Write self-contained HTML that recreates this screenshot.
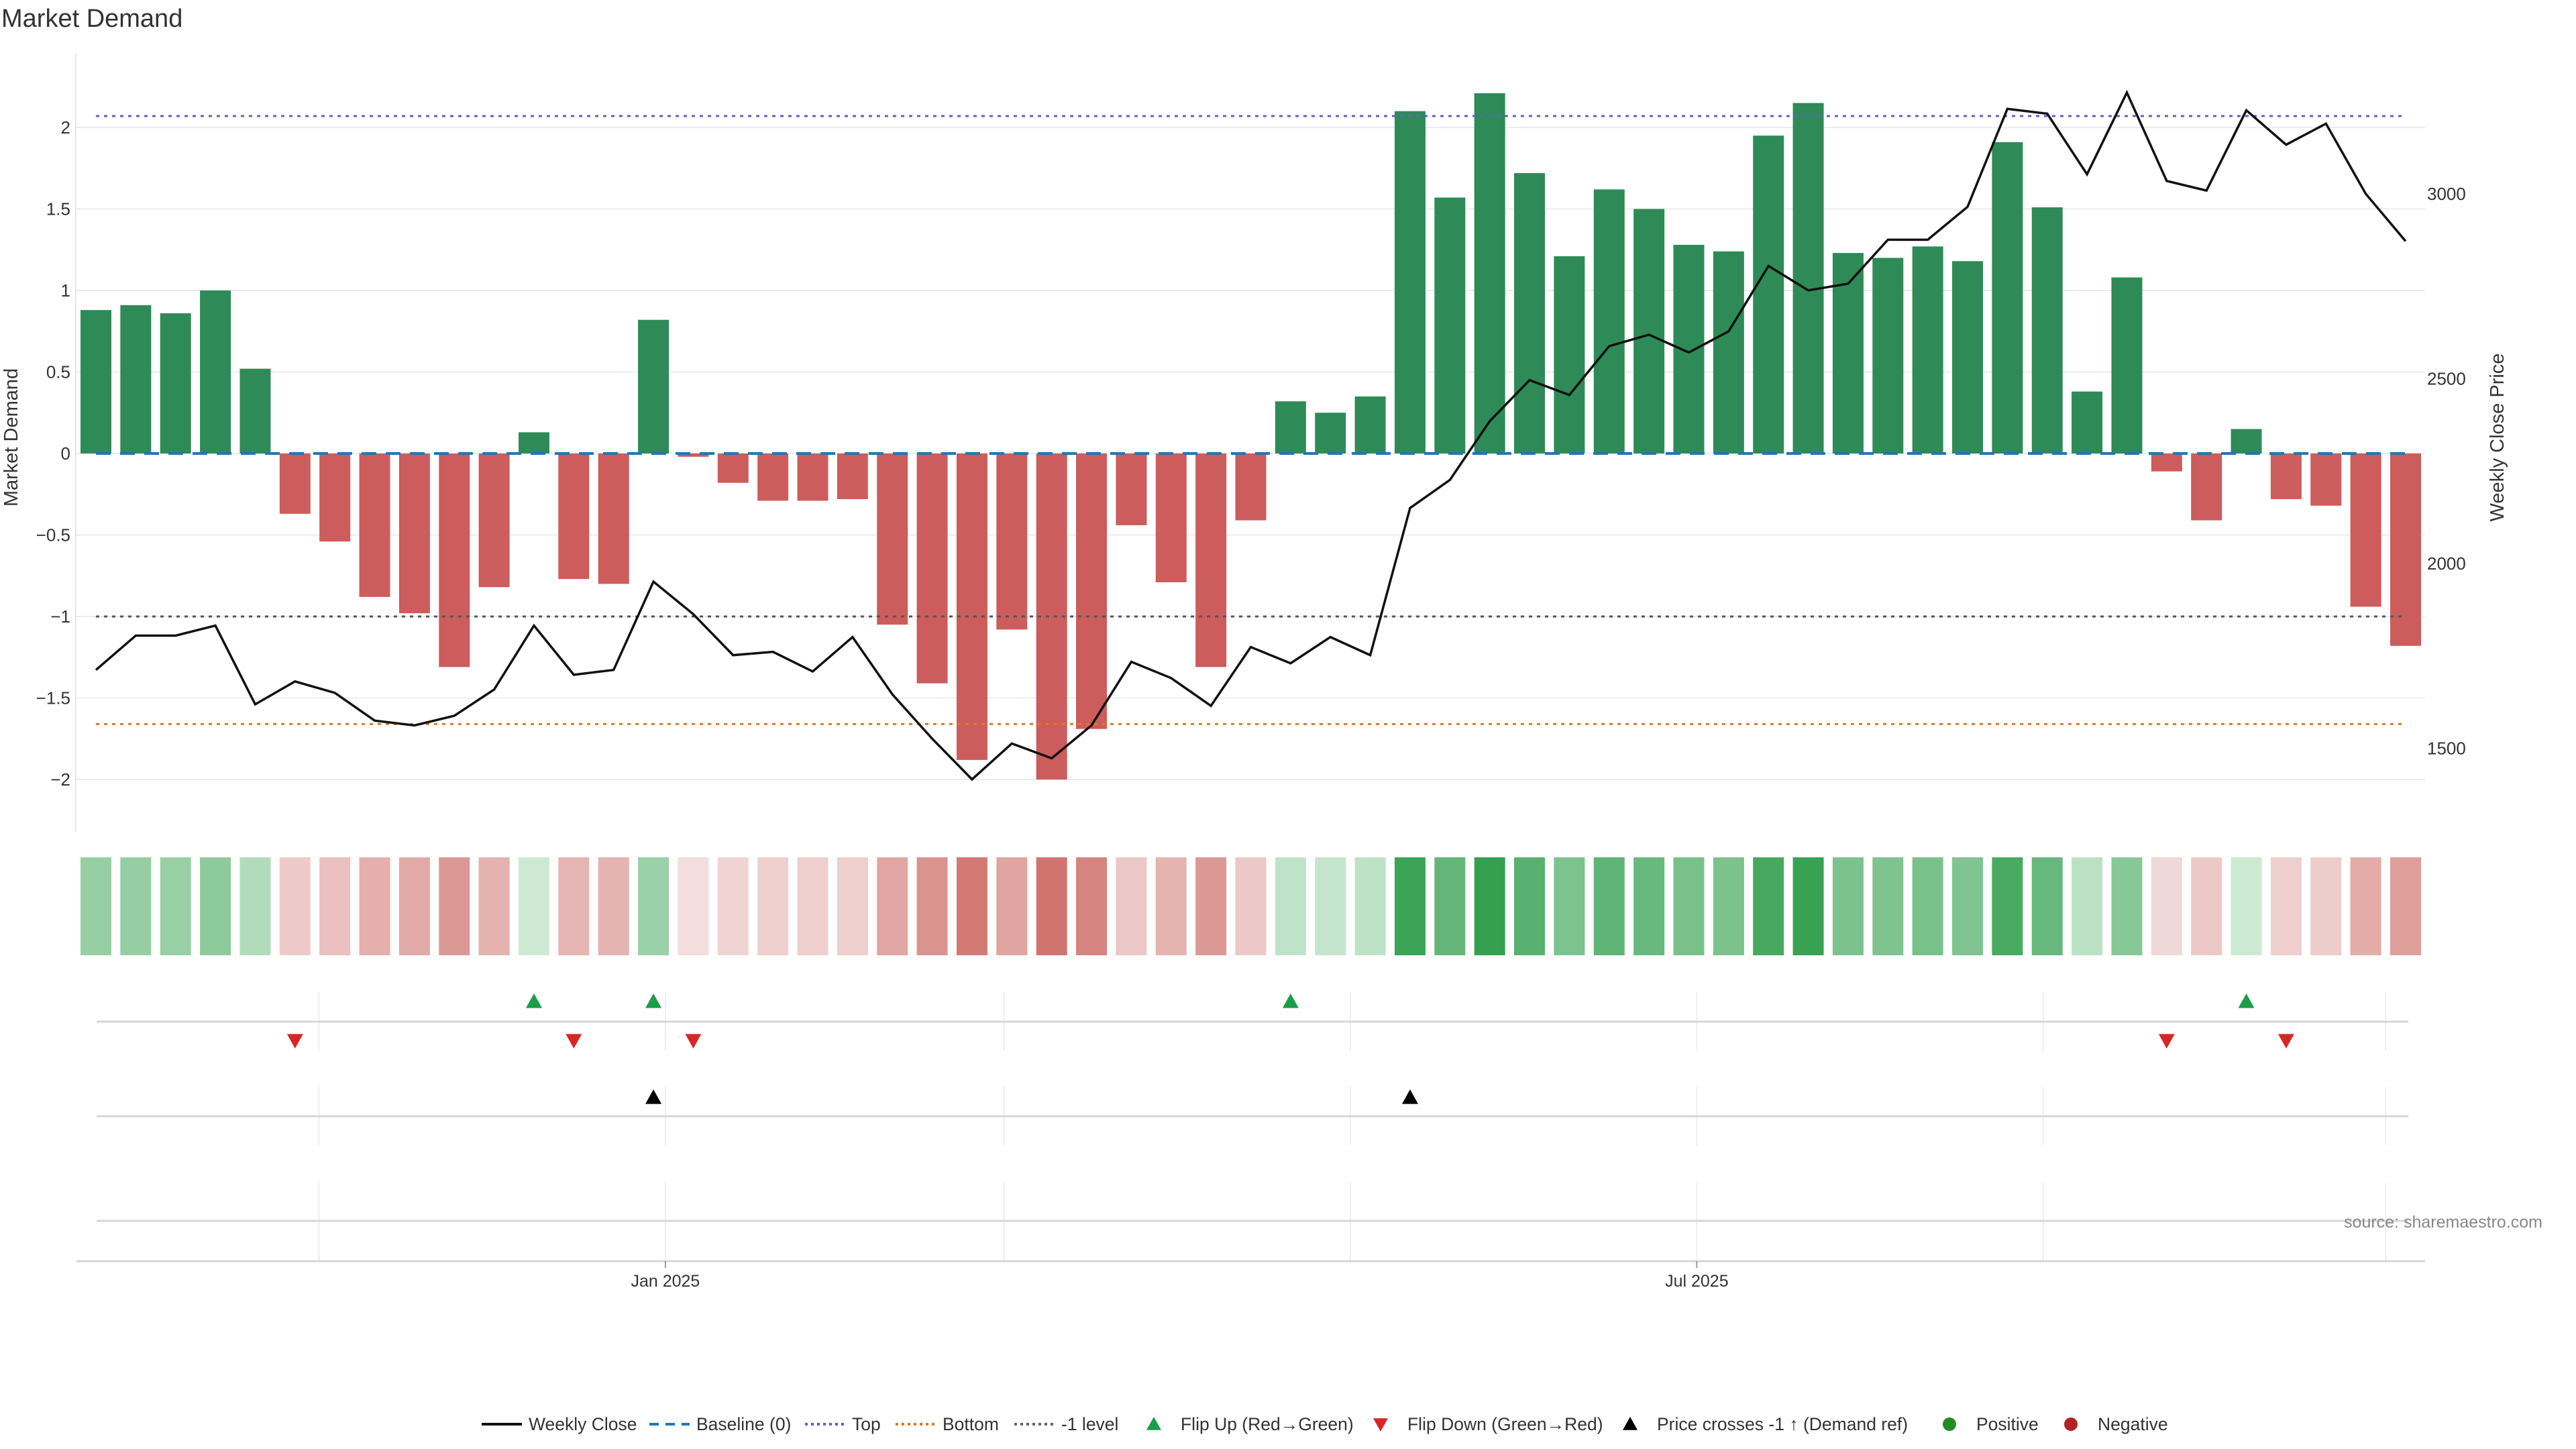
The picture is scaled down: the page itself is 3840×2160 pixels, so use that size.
<!DOCTYPE html>
<html><head><meta charset="utf-8"><style>
html,body{margin:0;padding:0;background:#fff;}
svg{display:block;font-family:"Liberation Sans","DejaVu Sans",sans-serif;}
</style></head><body>
<svg id="chart" width="3840" height="2160" viewBox="0 0 3840 2160" xmlns="http://www.w3.org/2000/svg">
<text x="2" y="40" font-size="38" fill="#333">Market Demand</text>
<g id="grid"></g><g id="bars"></g><g id="heat"></g><g id="marks"></g><g id="line"></g><g id="axes"></g>
<text transform="translate(26,652) rotate(-90)" text-anchor="middle" font-size="29" fill="#333">Market Demand</text>
<text transform="translate(3732,652) rotate(-90)" text-anchor="middle" font-size="29" fill="#333">Weekly Close Price</text>
<text x="3790" y="1830" text-anchor="end" font-size="25" fill="#888">source: sharemaestro.com</text>
<g id="legend"></g>
</svg>
<script>
const demand=[0.88,0.91,0.86,1.0,0.52,-0.37,-0.54,-0.88,-0.98,-1.31,-0.82,0.13,-0.77,-0.80,0.82,-0.02,-0.18,-0.29,-0.29,-0.28,-1.05,-1.41,-1.88,-1.08,-2.0,-1.69,-0.44,-0.79,-1.31,-0.41,0.32,0.25,0.35,2.10,1.57,2.21,1.72,1.21,1.62,1.50,1.28,1.24,1.95,2.15,1.23,1.20,1.27,1.18,1.91,1.51,0.38,1.08,-0.11,-0.41,0.15,-0.28,-0.32,-0.94,-1.18];
const closes=[1712,1805,1805,1832,1619,1681,1650,1575,1562,1588,1659,1832,1699,1712,1951,1863,1752,1761,1708,1801,1646,1526,1416,1513,1473,1562,1734,1690,1615,1774,1730,1801,1752,2150,2226,2385,2496,2456,2588,2619,2571,2628,2805,2739,2757,2876,2876,2965,3230,3217,3053,3274,3035,3009,3226,3133,3190,3000,2872];
const flipUp=[11,14,30,54];
const flipDown=[5,12,15,52,55];
const priceCross=[14,33];
const yTicks=[-2,-1.5,-1,-0.5,0,0.5,1,1.5,2];
const y2Ticks=[1500,2000,2500,3000];
const levels={top:2.07,bottom:-1.66,minus1:-1};
const xTickLabels=["Jan 2025","Jul 2025"];
const xTickIdx=[14.3,40.2];
const monthIdx=[5.6,14.3,22.8,31.5,40.2,48.9,57.5];

const NS="http://www.w3.org/2000/svg";
function el(tag,attrs,parent,txt){const e=document.createElementNS(NS,tag);for(const k in attrs)e.setAttribute(k,attrs[k]);if(txt!==undefined)e.textContent=txt;document.getElementById(parent).appendChild(e);return e;}
const X=i=>143+i*((3586-143)/(demand.length-1));
const Y=v=>676-v*243;
const Y2=p=>289+(3000-p)*0.551;
const L=113,R=3615;
yTicks.forEach(t=>{
 const g=el('line',{x1:L,x2:R,y1:Y(t),y2:Y(t),stroke:'#ececec','stroke-width':2},'grid');
 
 
 const tx=el('text',{x:L-8,y:Y(t)+9,'text-anchor':'end','font-size':26,fill:'#333'},'axes',(t<0?'\u2212'+(-t):String(t)));
 
 
});
y2Ticks.forEach(t=>{
 const tx=el('text',{x:3618,y:Y2(t)+9,'font-size':26,fill:'#333'},'axes',String(t));
 
 
});
el('line',{x1:L,x2:L,y1:80,y2:1240,stroke:'#e6e6e6','stroke-width':2},'axes');
demand.forEach((v,i)=>{
 const b=el('rect',{x:X(i)-23,width:46,y:Math.min(Y(v),Y(0)),height:Math.max(1,Math.abs(Y(v)-Y(0))),fill:v>=0?'#2e8b57':'#cd5c5c'},'bars');
 
 
});
const x0=X(0),x1=X(demand.length-1);
[[levels.top,'#6a5acd'],[levels.minus1,'#555'],[levels.bottom,'#e07b20']].forEach(([v,c])=>{
 const l=el('line',{x1:x0,x2:x1,y1:Y(v),y2:Y(v),stroke:c,'stroke-width':3,'stroke-dasharray':'5 7'},'bars');
 
 
});
const bl=el('line',{x1:x0,x2:x1,y1:Y(0),y2:Y(0),stroke:'#1f77b4','stroke-width':4,'stroke-dasharray':'22 14'},'bars');


const pl=el('polyline',{points:closes.map((p,i)=>X(i)+','+Y2(p)).join(' '),fill:'none',stroke:'#111','stroke-width':3.5},'line');


function heat(v){const t=Math.min(Math.abs(v)/2.2,1);
 const a=v>=0?[215,238,220]:[243,222,222],b=v>=0?[52,160,80]:[205,105,98];
 return 'rgb('+a.map((c,k)=>Math.round(c+(b[k]-c)*t)).join(',')+')';}
demand.forEach((v,i)=>{
 const h=el('rect',{x:X(i)-23,width:46,y:1278,height:146,fill:heat(v)},'heat');
 
 
});
monthIdx.forEach(m=>{
 [[1479,1567],[1619,1708],[1762,1880]].forEach(([a,b])=>{el('line',{x1:X(m),x2:X(m),y1:a,y2:b,stroke:'#eee','stroke-width':2},'marks');});
});
[1523,1664,1820].forEach(y=>{el('line',{x1:144,x2:3590,y1:y,y2:y,stroke:'#d6d6d6','stroke-width':3},'marks');});
el('line',{x1:114,x2:R,y1:1880,y2:1880,stroke:'#d6d6d6','stroke-width':3},'marks');
function tri(x,y,up,c,name){const s=12;
 const p=up?[[x,y-s],[x-s,y+s*0.8],[x+s,y+s*0.8]]:[[x,y+s],[x-s,y-s*0.8],[x+s,y-s*0.8]];
 const t=el('polygon',{points:p.map(q=>q.join(',')).join(' '),fill:c},'marks');
 
 }
flipUp.forEach(i=>tri(X(i),1493,true,'#1a9e4a','flip-up-marker'));
flipDown.forEach(i=>tri(X(i),1551,false,'#d62728','flip-down-marker'));
priceCross.forEach(i=>tri(X(i),1636,true,'#000','price-cross-marker'));
xTickLabels.forEach((s,k)=>{
 const x=X(xTickIdx[k]);
 el('line',{x1:x,x2:x,y1:1880,y2:1890,stroke:'#999','stroke-width':2},'axes');
 const t=el('text',{x:x,y:1918,'text-anchor':'middle','font-size':25,fill:'#333'},'axes',s);
 
 
});
const leg=[['line','#111','','Weekly Close',718],['line','#1f77b4','14 10','Baseline (0)',968],['line','#6a5acd','4 5','Top',1200],['line','#e07b20','4 5','Bottom',1335],['line','#666','4 5','-1 level',1512],['up','#1a9e4a','','Flip Up (Red\u2192Green)',1690],['down','#d62728','','Flip Down (Green\u2192Red)',2028],['up','#000','','Price crosses -1 \u2191 (Demand ref)',2400],['dot','#228b22','','Positive',2876],['dot','#b22222','','Negative',3057]];
leg.forEach(([k,c,d,s,x])=>{
 const y=2123;
 if(k==='line'){el('line',{x1:x,x2:x+60,y1:y,y2:y,stroke:c,'stroke-width':4,'stroke-dasharray':d},'legend');}
 else if(k==='dot'){el('circle',{cx:x+30,cy:y,r:10,fill:c},'legend');}
 else{const s2=11;const p=k==='up'?[[x+30,y-s2],[x+19,y+s2*0.8],[x+41,y+s2*0.8]]:[[x+30,y+s2],[x+19,y-s2*0.8],[x+41,y-s2*0.8]];el('polygon',{points:p.map(q=>q.join(',')).join(' '),fill:c},'legend');}
 const t=el('text',{x:x+70,y:y+9,'font-size':26.5,fill:'#333'},'legend',s);
 
 
});
</script>
</body></html>
